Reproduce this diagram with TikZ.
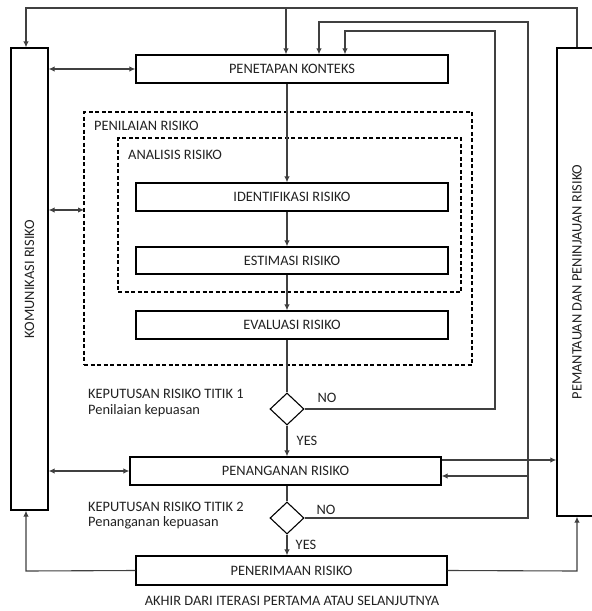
\documentclass[tikz,border=0pt]{standalone}
\usepackage{fontspec}
\setmainfont{Carlito}
\usetikzlibrary{arrows.meta,shapes.geometric}
\definecolor{txt}{HTML}{222222}
\definecolor{ln}{HTML}{404040}
\begin{document}
\begin{tikzpicture}[x=1pt,y=-1pt,
  font=\fontsize{14.4}{17}\selectfont,
  box/.style={draw=black, line width=1.3pt, minimum width=312pt, minimum height=28pt, inner sep=0pt, text=txt},
  frame/.style={draw=black, line width=1.3pt, inner sep=0pt},
  dbox/.style={draw=black, line width=1.1pt, dashed, dash pattern=on 4pt off 2.5pt, inner sep=0pt},
  dec/.style={draw=black, line width=1.1pt, diamond, minimum width=34pt, minimum height=32pt, inner sep=0pt},
  conn/.style={draw=ln, line width=1.1pt},
  tip/.style={-{Latex[length=6pt,width=5.5pt]}},
  dtip/.style={{Latex[length=6pt,width=5.5pt]}-{Latex[length=6pt,width=5.5pt]}},
  lbl/.style={text=txt, inner sep=0pt, anchor=west}
]
\fill[white] (0,0) rectangle (592,611);
\useasboundingbox (0,0) rectangle (592,611);

% side boxes
\node[frame, minimum width=37pt, minimum height=462pt] (kom) at (29.5,279) {};
\node[rotate=90, text=txt] (komt) at (kom.center) {KOMUNIKASI RISIKO};
\node[frame, minimum width=40pt, minimum height=468pt] (pem) at (577,282) {};
\node[rotate=90, text=txt] (pemt) at (pem.center) {PEMANTAUAN DAN PENINJAUAN RISIKO};

% dashed groups
\node[dbox, minimum width=388pt, minimum height=253pt] (pen) at (278,238.5) {};
\node[lbl] (penl) at (94,126) {PENILAIAN RISIKO};
\node[dbox, minimum width=343pt, minimum height=154pt] (ana) at (289.5,215) {};
\node[lbl] (anal) at (128,155) {ANALISIS RISIKO};

% process boxes
\node[box] (pk) at (292,69) {PENETAPAN KONTEKS};
\node[box] (id) at (292,197) {IDENTIFIKASI RISIKO};
\node[box, minimum height=27pt] (es) at (292,260.5) {ESTIMASI RISIKO};
\node[box] (ev) at (292,325) {EVALUASI RISIKO};
\node[box, minimum width=311pt] (pn) at (285.5,471) {PENANGANAN RISIKO};
\node[box, minimum width=311pt, minimum height=29pt] (pr) at (291.5,570.5) {PENERIMAAN RISIKO};

% decisions
\node[dec] (d1) at (287,409) {};
\node[dec] (d2) at (287,518) {};

% labels
\node[lbl] (k1) at (88,394) {KEPUTUSAN RISIKO TITIK 1};
\node[lbl] (k1b) at (88,411) {Penilaian kepuasan};
\node[lbl] (k2) at (88,507) {KEPUTUSAN RISIKO TITIK 2};
\node[lbl] (k2b) at (88,523) {Penanganan kepuasan};
\node[text=txt, inner sep=0pt] (no1) at (327,398) {NO};
\node[text=txt, inner sep=0pt] (yes1) at (307,441) {YES};
\node[text=txt, inner sep=0pt] (no2) at (326,510) {NO};
\node[text=txt, inner sep=0pt] (yes2) at (306,545) {YES};
\node[text=txt, inner sep=0pt] (akhir) at (292,601) {AKHIR DARI ITERASI PERTAMA ATAU SELANJUTNYA};

% main flow
\draw[conn, tip] (pk.south -| d1) -- (id.north -| d1);
\draw[conn, tip] (id.south -| d1) -- (es.north -| d1);
\draw[conn, tip] (es.south -| d1) -- (ev.north -| d1);
\draw[conn] (ev.south -| d1) -- (d1.north);
\draw[conn, tip] (d1.south) -- (pn.north -| d1);
\draw[conn] (pn.south -| d2) -- (d2.north);
\draw[conn, tip] (d2.south) -- (pr.north -| d2);

% top loop
\coordinate (tl) at (26,8);
\coordinate (tr) at (577,8);
\coordinate (tm) at (286,8);
\draw[conn, tip] (pem.north) -- (tr) -- (tl) -- (tl |- kom.north);
\draw[conn, tip] (tm) -- (tm |- pk.north);

% NO loops
\coordinate (n1a) at (495,31);
\coordinate (n1b) at (345,31);
\draw[conn, tip] (d1.east) -| (n1a) -- (n1b) -- (n1b |- pk.north);
\coordinate (n2a) at (528,22);
\coordinate (n2b) at (319,22);
\draw[conn, tip] (d2.east) -| (n2a) -- (n2b) -- (n2b |- pk.north);
\coordinate (n2c) at (528,476);
\draw[conn, tip] (n2c) -- (n2c -| pn.east);

% to monitoring
\coordinate (pnr) at ([yshift=11pt]pn.east);
\draw[conn, tip] (pnr) -- (pnr -| pem.west);

% communication arrows
\draw[conn, dtip] (kom.east |- pk) -- (pk.west);
\coordinate (pa) at (84,210);
\draw[conn, dtip] (kom.east |- pa) -- (pa);
\draw[conn, dtip] (kom.east |- pn) -- (pn.west);

% bottom returns
\coordinate (bl) at (26,571);
\coordinate (br) at (577,571);
\draw[conn, tip] (pr.west) -- (bl) -- (bl |- kom.south);
\draw[conn, tip] (pr.east) -- (br) -- (br |- pem.south);
\end{tikzpicture}
\end{document}
